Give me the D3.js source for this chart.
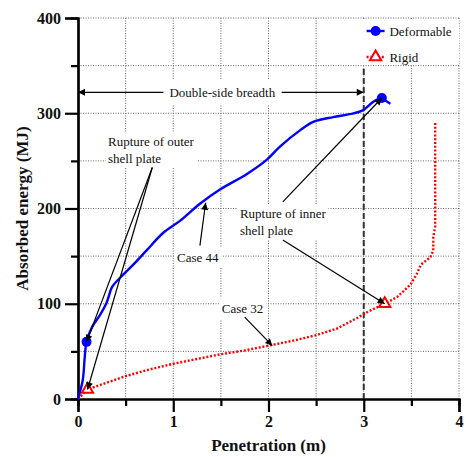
<!DOCTYPE html>
<html>
<head>
<meta charset="utf-8">
<script src="https://cdn.jsdelivr.net/npm/d3@7"></script>
<style>
  html, body { margin: 0; padding: 0; background: #fff; }
  svg { display: block; }
  svg text { font-family: "Liberation Serif", "Times New Roman", Tinos, serif; }
</style>
</head>
<body>
<svg id="chart" width="466" height="457"></svg>
<script>
// Energy absorbed versus penetration depth for two collision cases
const deformablePen = [0, 0.05, 0.07, 0.09, 0.15, 0.23, 0.30, 0.36, 0.44, 0.58, 0.72, 0.89, 1.07, 1.28, 1.49, 1.77, 1.98, 2.12, 2.33, 2.47, 2.68, 2.85, 2.99, 3.10, 3.19, 3.23, 3.28];
const deformableEnergy = [0, 20, 43, 60, 76, 88, 101, 118, 127, 141, 156, 174, 187, 205, 220, 236, 251, 265, 282, 291, 296, 299, 303, 312, 316, 313, 310];

const rigidPen = [0, 0.1, 0.3, 0.5, 0.75, 1.0, 1.25, 1.5, 1.75, 2.0, 2.25, 2.5, 2.72, 2.93, 3.05, 3.22, 3.35, 3.49, 3.56, 3.60, 3.70, 3.73, 3.73, 3.75, 3.75, 3.75];
const rigidEnergy = [0, 10, 17, 24, 31, 37, 42, 47, 51, 56, 61, 67, 74, 85, 92, 100, 107, 120, 132, 141, 149, 156, 170, 181, 230, 290];

// rupture events: [penetration, energy]
const deformableRupture = [[0.09, 60], [3.19, 316]];
const rigidRupture = [[0.10, 10], [3.22, 100]];

const xTicksMajor = [0, 1, 2, 3, 4];
const xTicksMinor = [0.5, 1.5, 2.5, 3.5];
const yTicksMajor = [0, 100, 200, 300, 400];
const yTicksMinor = [50, 150, 250, 350];

const breadth = 3.0;        // double-side breadth (m)
const breadthLevel = 322;   // energy level of the breadth dimension line

const seriesNames = ["Deformable", "Rigid"];
const caseLabels = ["Case 44", "Case 32"];

const FONT = "'Liberation Serif', 'Times New Roman', Tinos, serif";

const svg = d3.select("#chart").attr("font-family", FONT);
const margin = { left: 78, top: 18, right: 7, bottom: 58 };
const W = 466 - margin.left - margin.right;
const H = 457 - margin.top - margin.bottom;

const x = d3.scaleLinear().domain([0, 4]).range([margin.left, margin.left + W]);
const y = d3.scaleLinear().domain([0, 400]).range([margin.top + H, margin.top]);

// arrowhead marker
const defs = svg.append("defs");
defs.append("marker")
  .attr("id", "arrow").attr("viewBox", "0 0 10 10")
  .attr("refX", 10).attr("refY", 5)
  .attr("markerWidth", 9).attr("markerHeight", 7)
  .attr("markerUnits", "userSpaceOnUse")
  .attr("orient", "auto")
  .append("path").attr("d", "M0,0 L10,5 L0,10 z").attr("fill", "#000");

// dotted grid
const grid = svg.append("g").attr("stroke", "#666").attr("stroke-width", 1).attr("stroke-dasharray", "1,1.5");
grid.selectAll("line.v").data(xTicksMinor.concat(xTicksMajor.slice(1)))
  .join("line").attr("class", "v")
  .attr("x1", d => x(d)).attr("x2", d => x(d))
  .attr("y1", y(0)).attr("y2", y(400));
grid.selectAll("line.h").data(yTicksMinor.concat(yTicksMajor.slice(1)))
  .join("line").attr("class", "h")
  .attr("x1", x(0)).attr("x2", x(4))
  .attr("y1", d => y(d)).attr("y2", d => y(d));

// text label on a white block so the grid breaks around it
function label(parent, lines, px, py, lh, pad, anchor) {
  const g = parent.append("g");
  const t = g.append("text").attr("font-family", FONT).attr("font-size", 13).attr("fill", "#111")
    .attr("text-anchor", anchor || "start");
  lines.forEach((s, i) => t.append("tspan").attr("x", px).attr("y", py + i * lh).text(s));
  const bb = t.node().getBBox();
  g.insert("rect", "text")
    .attr("x", bb.x - pad).attr("y", bb.y - pad)
    .attr("width", bb.width + 2 * pad).attr("height", bb.height + 2 * pad)
    .attr("fill", "#fff");
  return bb;
}

const ann = svg.append("g");

// double-side breadth dimension
const dbb = label(ann, ["Double-side breadth"], x(1.515), y(breadthLevel) + 4.5, 0, 5, "middle");
ann.append("line").attr("x1", dbb.x - 6).attr("x2", x(0)).attr("y1", y(breadthLevel)).attr("y2", y(breadthLevel))
  .attr("stroke", "#000").attr("stroke-width", 1.2).attr("marker-end", "url(#arrow)");
ann.append("line").attr("x1", dbb.x + dbb.width + 6).attr("x2", x(breadth)).attr("y1", y(breadthLevel)).attr("y2", y(breadthLevel))
  .attr("stroke", "#000").attr("stroke-width", 1.2).attr("marker-end", "url(#arrow)");

// breadth limit
ann.append("line").attr("x1", x(breadth)).attr("x2", x(breadth))
  .attr("y1", y(0)).attr("y2", y(349))
  .attr("stroke", "#333").attr("stroke-width", 2).attr("stroke-dasharray", "6,3");

// text labels
label(ann, ["Rupture of outer", "shell plate"], x(0.315), y(266), 17, 2);
label(ann, ["Rupture of inner", "shell plate"], x(1.70), y(190), 17, 2);
label(ann, [caseLabels[0]], x(1.04), y(144), 17, 3);
label(ann, [caseLabels[1]], x(1.51), y(90), 17, 3);

// legend background
svg.append("rect").attr("x", x(2.94)).attr("y", y(400) + 1).attr("width", x(4) - x(2.94))
  .attr("height", y(351) - y(400) - 1).attr("fill", "#fff");

// axes
const axG = svg.append("g");
const xMajor = d3.axisBottom(x).tickValues(xTicksMajor).tickSize(13).tickPadding(4).tickFormat(d3.format("d"));
const xMinor = d3.axisBottom(x).tickValues(xTicksMinor).tickSize(7).tickFormat("");
const yMajor = d3.axisLeft(y).tickValues(yTicksMajor).tickSize(13).tickPadding(4).tickFormat(d3.format("d"));
const yMinor = d3.axisLeft(y).tickValues(yTicksMinor).tickSize(7).tickFormat("");

[[xMajor, "x"], [xMinor, "x"], [yMajor, "y"], [yMinor, "y"]].forEach(([ax, k]) => {
  const g = axG.append("g")
    .attr("transform", k === "x" ? `translate(0,${y(0)})` : `translate(${x(0)},0)`)
    .call(ax)
    .attr("font-family", FONT);
  g.select(".domain").attr("stroke", "#000").attr("stroke-width", 2.2);
  g.selectAll(".tick line").attr("stroke", "#000").attr("stroke-width", 2.2);
  g.selectAll(".tick text").attr("font-size", 16)
    .attr("font-weight", "bold").attr("fill", "#111");
});

svg.append("text").attr("x", x(2)).attr("y", 451).attr("text-anchor", "middle").attr("font-family", FONT)
  .attr("font-size", 17).attr("font-weight", "bold").attr("fill", "#111").text("Penetration (m)");
svg.append("text").attr("transform", `translate(28,${y(200)}) rotate(-90)`).attr("text-anchor", "middle").attr("font-family", FONT)
  .attr("font-size", 17).attr("font-weight", "bold").attr("fill", "#111").text("Absorbed energy (MJ)");

// curves
const rigidData = d3.zip(rigidPen, rigidEnergy);
const deformData = d3.zip(deformablePen, deformableEnergy);
const rigidLine = d3.line().x(d => x(d[0])).y(d => y(d[1]));
const deformLine = d3.line().x(d => x(d[0])).y(d => y(d[1])).curve(d3.curveCatmullRom);

svg.append("path").datum(rigidData).attr("d", rigidLine)
  .attr("fill", "none").attr("stroke", "#ff0000").attr("stroke-width", 2.4).attr("stroke-dasharray", "2,1.8");
svg.append("path").datum(deformData).attr("d", deformLine)
  .attr("fill", "none").attr("stroke", "#0000ff").attr("stroke-width", 2.4);

const tri = d3.symbol().type(d3.symbolTriangle).size(55);
function triangle(g, cx, cy) {
  g.append("path").attr("d", tri()).attr("transform", `translate(${cx},${cy})`)
    .attr("fill", "#fff").attr("stroke", "#ff0000").attr("stroke-width", 2);
}
rigidRupture.forEach(d => triangle(svg, x(d[0]), y(d[1])));
deformableRupture.forEach(d => svg.append("circle").attr("cx", x(d[0])).attr("cy", y(d[1])).attr("r", 5).attr("fill", "#0000ff"));

// leader arrows
const arrows = [
  [[0.78, 243], deformableRupture[0]],
  [[0.78, 243], rigidRupture[0]],
  [[2.15, 207], deformableRupture[1]],
  [[2.15, 167], rigidRupture[1]],
  [[1.28, 161], [1.34, 206]],
  [[1.75, 86], [2.04, 56]]
];
const ag = svg.append("g");
arrows.forEach(([a, b]) => {
  ag.append("line").attr("x1", x(a[0])).attr("y1", y(a[1])).attr("x2", x(b[0])).attr("y2", y(b[1]))
    .attr("stroke", "#000").attr("stroke-width", 1.2).attr("marker-end", "url(#arrow)");
});

// legend
const lg = svg.append("g");
const lx = x(3.03), tx = x(3.27);
lg.append("line").attr("x1", lx).attr("x2", lx + 18).attr("y1", 31).attr("y2", 31)
  .attr("stroke", "#0000ff").attr("stroke-width", 2.4);
lg.append("circle").attr("cx", lx + 9).attr("cy", 31).attr("r", 5).attr("fill", "#0000ff");
lg.append("text").attr("x", tx).attr("y", 35.5).attr("font-family", FONT).attr("font-size", 13).attr("fill", "#111").text(seriesNames[0]);
lg.append("line").attr("x1", lx).attr("x2", lx + 18).attr("y1", 57).attr("y2", 57)
  .attr("stroke", "#ff0000").attr("stroke-width", 2.4).attr("stroke-dasharray", "2,1.8");
triangle(lg, lx + 9, 57);
lg.append("text").attr("x", tx).attr("y", 61.5).attr("font-family", FONT).attr("font-size", 13).attr("fill", "#111").text(seriesNames[1]);
</script>
</body>
</html>
